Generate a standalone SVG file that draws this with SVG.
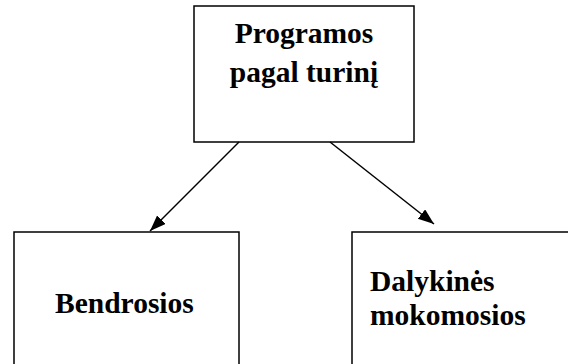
<svg xmlns="http://www.w3.org/2000/svg" width="568" height="364" viewBox="0 0 568 364">
<style>
.box{fill:#fff;stroke:#000;stroke-width:1.5}
.t{font-family:"Liberation Serif","Times New Roman",serif;font-weight:bold;font-size:29.5px;fill:#000}
.c{stroke:#000;stroke-width:1.5;fill:none}
</style>
<defs>
<marker id="ah" markerUnits="userSpaceOnUse" markerWidth="17" markerHeight="13" refX="16" refY="6" orient="auto">
<path d="M0,0 L16,6 L0,12 z" fill="#000"/>
</marker>
</defs>
<rect width="568" height="364" fill="#fff"/>
<g id="top">
<rect class="box" x="194" y="6" width="220" height="136"/>
<text class="t" x="304" y="43" text-anchor="middle">Programos</text>
<text class="t" x="304" y="82" text-anchor="middle">pagal turinį</text>
</g>
<g id="bendrosios">
<rect class="box" x="14" y="232" width="225" height="150"/>
<text class="t" x="55" y="313">Bendrosios</text>
</g>
<g id="dalykines">
<rect class="box" x="352" y="232" width="230" height="150"/>
<text class="t" x="370" y="291">Dalykinės</text>
<text class="t" x="370" y="325">mokomosios</text>
</g>
<g id="connectors">
<line class="c" x1="239" y1="142" x2="150" y2="231" marker-end="url(#ah)"/>
<line class="c" x1="330" y1="142" x2="434" y2="224" marker-end="url(#ah)"/>
</g>
</svg>
